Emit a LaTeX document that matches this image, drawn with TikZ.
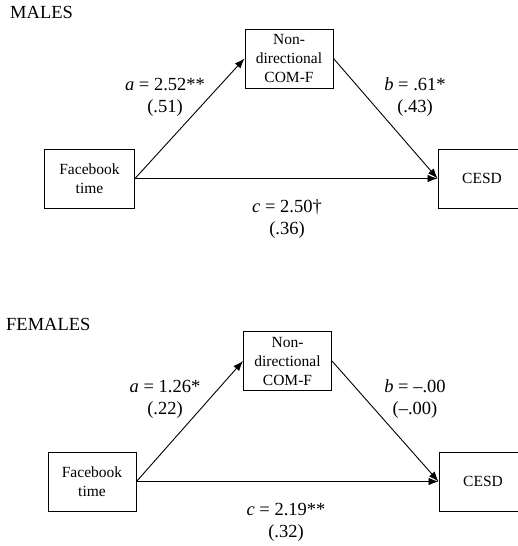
\documentclass[tikz,border=0pt]{standalone}
\usepackage{fontspec}
\setmainfont{Liberation Serif}
\usetikzlibrary{arrows.meta,positioning}

\begin{document}
\begin{tikzpicture}[x=1pt,y=-1pt,>={Latex[length=10pt,width=7.5pt]},
    var/.style={draw,line width=1pt,minimum width=88pt,minimum height=59pt,
      inner sep=0pt,align=center,font=\fontsize{15.5}{19}\selectfont},
    coef/.style={align=center,font=\fontsize{18.5}{22}\selectfont},
    grouptitle/.style={anchor=base west,inner sep=0pt,font=\fontsize{18.5}{22}\selectfont},
    effect/.style={->,line width=0.9pt}]
        \clip (0,0) rectangle (518,546);
        % males
        \node[grouptitle] (mtitle) at (10,18) {MALES};
        \node[var] (mmed) at (289,58.5) {Non-\\directional\\COM-F};
        \node[var,minimum width=90pt] (mfb) at (89.5,178.5) {Facebook\\time};
        \node[var] (mcesd) at (482,178.5) {CESD};
        \draw[effect] (mfb.east)--(mmed.west);
        \draw[effect] (mmed.east)--(mcesd.west);
        \draw[effect] (mfb.east)--(mcesd.west);
        \node[coef] (ma) at (165,97) {\textit{a} = 2.52**\\(.51)};
        \node[coef] (mb) at (415,97) {\textit{b} = .61*\\(.43)};
        \node[coef] (mc) at (287,219) {\textit{c} = 2.50†\\(.36)};
        % females
        \node[grouptitle] (ftitle) at (6,330) {FEMALES};
        \node[var] (fmed) at (287.5,361) {Non-\\directional\\COM-F};
        \node[var] (ffb) at (92,481.5) {Facebook\\time};
        \node[var] (fcesd) at (483,481.5) {CESD};
        \draw[effect] (ffb.east)--(fmed.west);
        \draw[effect] (fmed.east)--(fcesd.west);
        \draw[effect] (ffb.east)--(fcesd.west);
        \node[coef] (fa) at (165,399) {\textit{a} = 1.26*\\(.22)};
        \node[coef] (fb) at (415,399) {\textit{b} = –.00\\(–.00)};
        \node[coef] (fc) at (286,522) {\textit{c} = 2.19**\\(.32)};
      \end{tikzpicture}
\end{document}
